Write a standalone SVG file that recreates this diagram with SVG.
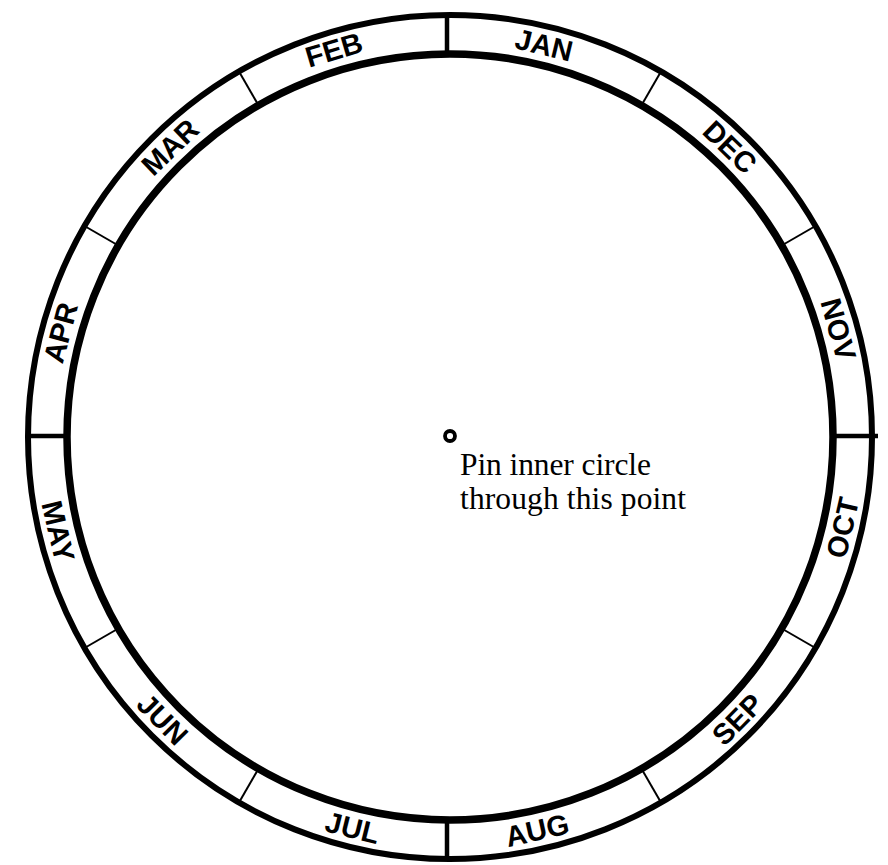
<svg xmlns="http://www.w3.org/2000/svg" width="888" height="865" viewBox="0 0 888 865">
<style>
.ring{fill:none;stroke:#000}
.tick{stroke:#000;stroke-width:2}
.tickb{stroke:#000;stroke-width:4.5}
.m{font-family:"Liberation Sans",Arial,sans-serif;font-weight:bold;font-size:29px;text-anchor:middle;dominant-baseline:central;fill:#000}
.note{font-family:"Liberation Serif","Times New Roman",serif;font-size:31.5px;fill:#000}
</style>
<rect width="888" height="865" fill="#fff"/>
<g id="dial">
<circle class="ring" cx="450" cy="437" r="422" stroke-width="6"/>
<circle class="ring" cx="450" cy="437" r="383" stroke-width="7.5"/>
</g>
<g id="ticks">
<line class="tickb" x1="447" y1="15" x2="447" y2="54"/>
<line class="tickb" x1="447" y1="820" x2="447" y2="859"/>
<line class="tickb" x1="28" y1="436" x2="67" y2="436"/>
<line class="tickb" x1="833" y1="436" x2="878" y2="436"/>
<g transform="translate(450 437)">
<line class="tick" x1="0" y1="-383" x2="0" y2="-422" transform="rotate(30)"/>
<line class="tick" x1="0" y1="-383" x2="0" y2="-422" transform="rotate(60)"/>
<line class="tick" x1="0" y1="-383" x2="0" y2="-422" transform="rotate(120)"/>
<line class="tick" x1="0" y1="-383" x2="0" y2="-422" transform="rotate(150)"/>
<line class="tick" x1="0" y1="-383" x2="0" y2="-422" transform="rotate(210)"/>
<line class="tick" x1="0" y1="-383" x2="0" y2="-422" transform="rotate(240)"/>
<line class="tick" x1="0" y1="-383" x2="0" y2="-422" transform="rotate(300)"/>
<line class="tick" x1="0" y1="-383" x2="0" y2="-422" transform="rotate(330)"/>
</g>
</g>
<g id="months">
<text class="m" transform="translate(544.1 45.1) rotate(13.5)">JAN</text>
<text class="m" transform="translate(730 147.1) rotate(44)">DEC</text>
<text class="m" transform="translate(838.3 329.3) rotate(74.5)">NOV</text>
<text class="m" transform="translate(842.7 527.7) rotate(-77)">OCT</text>
<text class="m" transform="translate(737.5 719.5) rotate(-45.5)">SEP</text>
<text class="m" transform="translate(537.2 830.4) rotate(-12.5)">AUG</text>
<text class="m" transform="translate(352.5 828) rotate(14)">JUL</text>
<text class="m" transform="translate(162.5 719.5) rotate(45.5)">JUN</text>
<text class="m" transform="translate(58.1 531.1) rotate(76.5)">MAY</text>
<text class="m" transform="translate(60.7 332.7) rotate(-75)">APR</text>
<text class="m" transform="translate(170 147.1) rotate(-44)">MAR</text>
<text class="m" transform="translate(334 50) rotate(-16.5)">FEB</text>
</g>
<g id="pin">
<circle cx="450" cy="436" r="5" fill="none" stroke="#000" stroke-width="3.8"/>
<text class="note" x="460" y="475" textLength="191" lengthAdjust="spacing">Pin inner circle</text>
<text class="note" x="460" y="509" textLength="226" lengthAdjust="spacing">through this point</text>
</g>
</svg>
